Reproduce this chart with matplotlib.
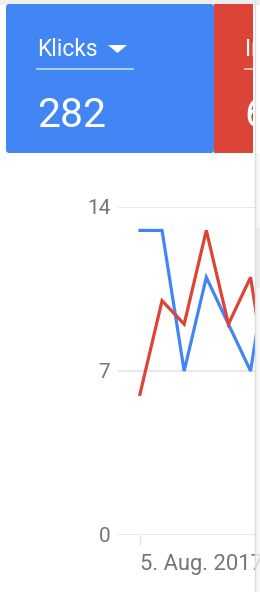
import matplotlib
matplotlib.use("Agg")
import matplotlib.pyplot as plt
from matplotlib.patches import Rectangle, FancyBboxPatch, Polygon
import datetime as dt

# daten
dates = [dt.date(2017, 8, 5) + dt.timedelta(days=i) for i in range(7)]
klicks = [13, 13, 7, 11, 9, 7, 13]
impressionen = [6, 10, 9, 13, 9, 11, 5]
y_ticks = [0, 7, 14]
card_titles = ["Klicks", "Impressionen"]
card_values = ["282", "6"]

BLUE = "#4285f4"
RED = "#db4437"
GREY_TXT = "#757575"
GRID = "#e2e2e2"

plt.rcParams['font.family'] = ['Roboto', 'DejaVu Sans']

W, H = 260, 592
fig = plt.figure(figsize=(W / 100, H / 100), dpi=100)
fig.patch.set_facecolor("white")

# hintergrund-achse in pixelkoordinaten
bg = fig.add_axes([0, 0, 1, 1])
bg.set_xlim(0, W)
bg.set_ylim(H, 0)
bg.axis("off")

bg.add_patch(Rectangle((0, 0), W, 4.5, color="#eeeeee", lw=0))
card_blue = FancyBboxPatch((6, 4), 208, 149, boxstyle="round,pad=0,rounding_size=3",
                           fc=BLUE, ec="none")
bg.add_patch(card_blue)
card_red = Rectangle((214, 4), 39, 149, fc=RED, ec="none")
bg.add_patch(card_red)

# karten-texte
bg.text(37, 56, card_titles[0], color="white", fontsize=16.5, va="baseline", ha="left")
bg.add_patch(Polygon([[108, 45], [127, 45], [117.5, 53]], closed=True, fc="white", ec="none"))
bg.plot([37, 133], [68.5, 68.5], color="white", alpha=0.7, lw=1.2)
bg.text(37, 127, card_values[0], color="white", fontsize=29.5, va="baseline", ha="left")

t1 = bg.text(245, 56, card_titles[1], color="white", fontsize=16.5, va="baseline", ha="left")
t2 = bg.text(244, 127, card_values[1], color="white", fontsize=29.5, va="baseline", ha="left")
t1.set_clip_path(card_red)
t2.set_clip_path(card_red)
bg.plot([245, 253], [68.5, 68.5], color="white", alpha=0.7, lw=1.2)

# diagramm
ax = fig.add_axes([118 / W, (H - 535) / H, (255 - 118) / W, (535 - 207) / H])
x = list(range(len(dates)))
ax.plot(x, klicks, color=BLUE, lw=2.3, solid_joinstyle="miter", zorder=3)
ax.plot(x, impressionen, color=RED, lw=2.3, solid_joinstyle="miter", zorder=4)

ax.set_xlim(-0.99, 5.2)
ax.set_ylim(0, 14)
ax.set_yticks(y_ticks)
ax.set_yticklabels([str(v) for v in y_ticks])
ax.set_xticks([0])
ax.set_xticklabels([f"{dates[0].day}. Aug. {dates[0].year}"], ha="left")

for v in y_ticks:
    ax.axhline(v, color=GRID, lw=1.1, zorder=1)

for s in ax.spines.values():
    s.set_visible(False)
ax.tick_params(axis="y", length=0, pad=5.5, labelsize=15, labelcolor=GREY_TXT)
ax.tick_params(axis="x", length=7.5, width=1, color=GRID, pad=6.5, labelsize=15.8,
               labelcolor=GREY_TXT)
for lab in ax.get_xticklabels():
    lab.set_clip_on(False)

# schatten am rechten rand
fg = fig.add_axes([0, 0, 1, 1], facecolor="none")
fg.set_xlim(0, W)
fg.set_ylim(H, 0)
fg.axis("off")
fg.add_patch(Rectangle((255, 153), 5, H - 153, fc="#f4f4f4", ec="none", alpha=0.8))
fg.plot([255, 255], [0, H], color="#dddddd", lw=1)
fg.add_patch(Rectangle((255, 228), 5, 60, fc="#ececec", ec="none"))

fig.savefig("out.png", dpi=100)
